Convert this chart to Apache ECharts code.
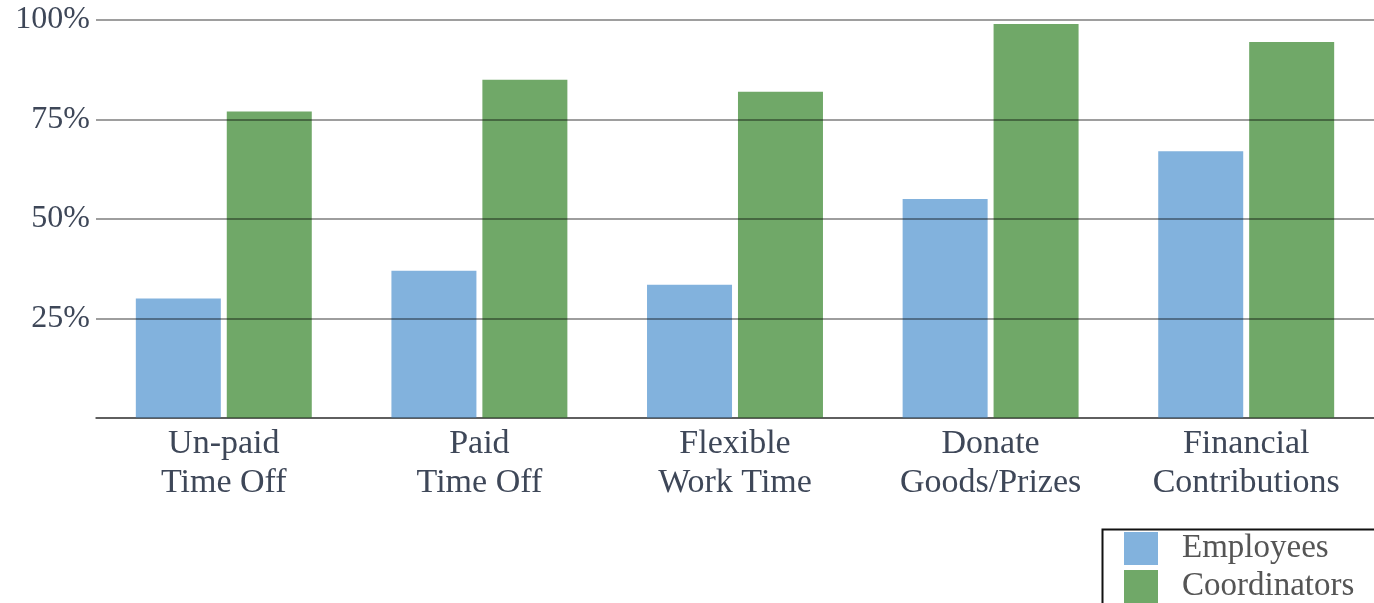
<!DOCTYPE html>
<html>
<head>
<meta charset="utf-8">
<script src="https://cdn.jsdelivr.net/npm/echarts@6/dist/echarts.min.js"></script>
<style>
html,body{margin:0;padding:0;background:#fff;}
#chart{width:1374px;height:603px;}
</style>
</head>
<body>
<div id="chart"></div>
<script>
const categories = ['Un-paid\nTime Off', 'Paid\nTime Off', 'Flexible\nWork Time', 'Donate\nGoods/Prizes', 'Financial\nContributions'];
const employees = [30, 37, 33.5, 55, 67];
const coordinators = [77, 85, 82, 99, 94.5];
const yTicks = [0, 25, 50, 75, 100];

const chart = echarts.init(document.getElementById('chart'));
const serif = '"Liberation Serif", "DejaVu Serif", serif';
chart.setOption({
  animation: false,
  backgroundColor: '#ffffff',
  grid: { left: 96, right: 0, top: 20, bottom: 185, containLabel: false },
  graphic: [{
    type: 'rect', left: 1100, top: 527, z: 1,
    shape: { width: 300, height: 100 },
    style: { fill: 'none', stroke: '#111', lineWidth: 2 }
  }],
  legend: {
    orient: 'vertical',
    left: 1124, top: 532,
    itemWidth: 34, itemHeight: 33, itemGap: 5,
    padding: 0,
    icon: 'rect',
    textStyle: { fontFamily: serif, fontSize: 33, color: '#555', padding: [0, 0, 0, 19] },
    data: ['Employees', 'Coordinators']
  },
  xAxis: {
    type: 'category',
    data: categories,
    axisLine: { show: true, lineStyle: { color: '#9a9a9a', width: 2 } },
    axisTick: { show: false },
    axisLabel: { fontFamily: serif, fontSize: 34, color: '#3e4758', lineHeight: 39, margin: 7, interval: 0 }
  },
  yAxis: {
    type: 'value',
    min: yTicks[0], max: yTicks[yTicks.length - 1], interval: 25,
    z: 10,
    axisLine: { show: false },
    axisTick: { show: false },
    splitLine: { lineStyle: { color: 'rgba(0,0,0,0.38)', width: 2 } },
    axisLabel: {
      fontFamily: serif, fontSize: 32, color: '#3e4758', margin: 6,
      padding: [14, 0, 0, 0],
      formatter: v => v === 0 ? '' : v + '%'
    }
  },
  series: [
    {
      name: 'Employees', type: 'bar', data: employees,
      barWidth: 85, barGap: '7%',
      itemStyle: { color: '#82b2dd' }
    },
    {
      name: 'Coordinators', type: 'bar', data: coordinators,
      barWidth: 85,
      itemStyle: { color: '#70a868' }
    }
  ]
});
</script>
</body>
</html>
